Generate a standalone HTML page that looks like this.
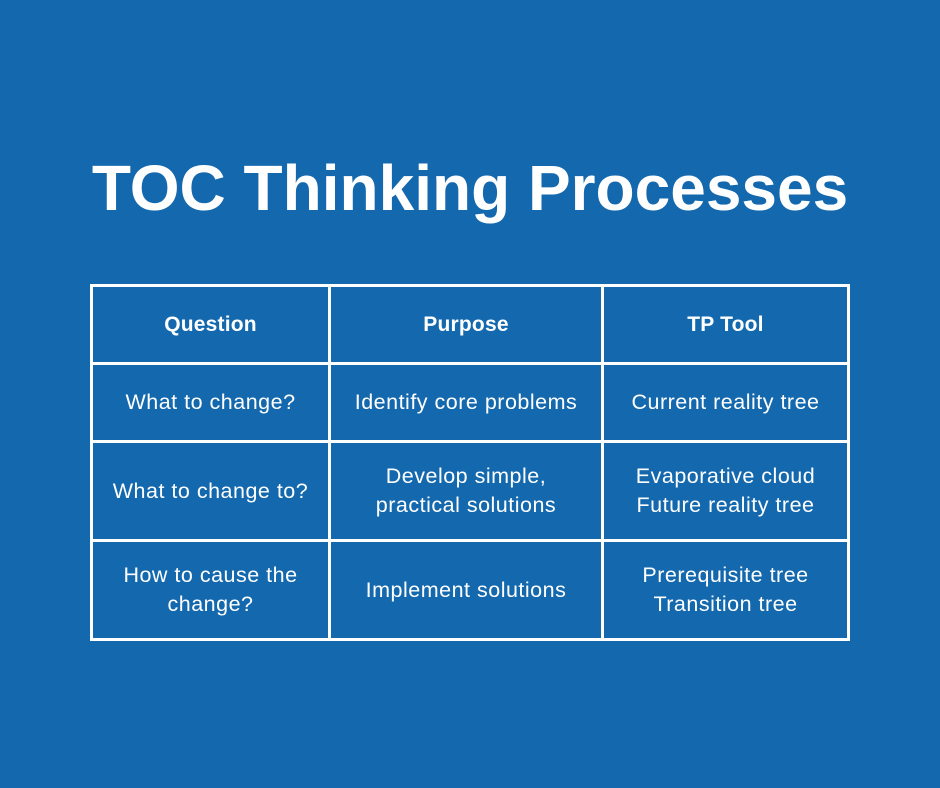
<!DOCTYPE html><html><head><style>
body{margin:0;width:940px;height:788px;background:#1468AD;font-family:"Liberation Sans",sans-serif;color:#fff;position:relative;overflow:hidden}
.t{position:absolute;left:0;width:940px;top:149px;text-align:center;font-weight:bold;font-size:64px;line-height:78px}
.h{position:absolute;background:#fff}
.c{position:absolute;display:flex;align-items:center;justify-content:center;text-align:center;font-size:21.5px;letter-spacing:0.5px;line-height:29px}
.b{font-weight:bold;font-size:21px;letter-spacing:0.2px}
</style></head><body>
<div class="t">TOC Thinking Processes</div>
<div class="h" style="left:90px;top:284px;width:760px;height:3px"></div>
<div class="h" style="left:90px;top:362px;width:760px;height:3px"></div>
<div class="h" style="left:90px;top:440px;width:760px;height:3px"></div>
<div class="h" style="left:90px;top:539px;width:760px;height:3px"></div>
<div class="h" style="left:90px;top:638px;width:760px;height:3px"></div>
<div class="h" style="left:90px;top:284px;width:3px;height:357px"></div>
<div class="h" style="left:328px;top:284px;width:3px;height:357px"></div>
<div class="h" style="left:601px;top:284px;width:3px;height:357px"></div>
<div class="h" style="left:847px;top:284px;width:3px;height:357px"></div>
<div class="c b" style="left:93px;top:287px;width:235px;height:75px">Question</div>
<div class="c b" style="left:331px;top:287px;width:270px;height:75px">Purpose</div>
<div class="c b" style="left:604px;top:287px;width:243px;height:75px">TP Tool</div>
<div class="c" style="left:93px;top:365px;width:235px;height:75px">What to change?</div>
<div class="c" style="left:331px;top:365px;width:270px;height:75px">Identify core problems</div>
<div class="c" style="left:604px;top:365px;width:243px;height:75px">Current reality tree</div>
<div class="c" style="left:93px;top:443px;width:235px;height:96px">What to change to?</div>
<div class="c" style="left:331px;top:443px;width:270px;height:96px">Develop simple,<br>practical solutions</div>
<div class="c" style="left:604px;top:443px;width:243px;height:96px">Evaporative cloud<br>Future reality tree</div>
<div class="c" style="left:93px;top:542px;width:235px;height:96px">How to cause the<br>change?</div>
<div class="c" style="left:331px;top:542px;width:270px;height:96px">Implement solutions</div>
<div class="c" style="left:604px;top:542px;width:243px;height:96px">Prerequisite tree<br>Transition tree</div>
</body></html>
